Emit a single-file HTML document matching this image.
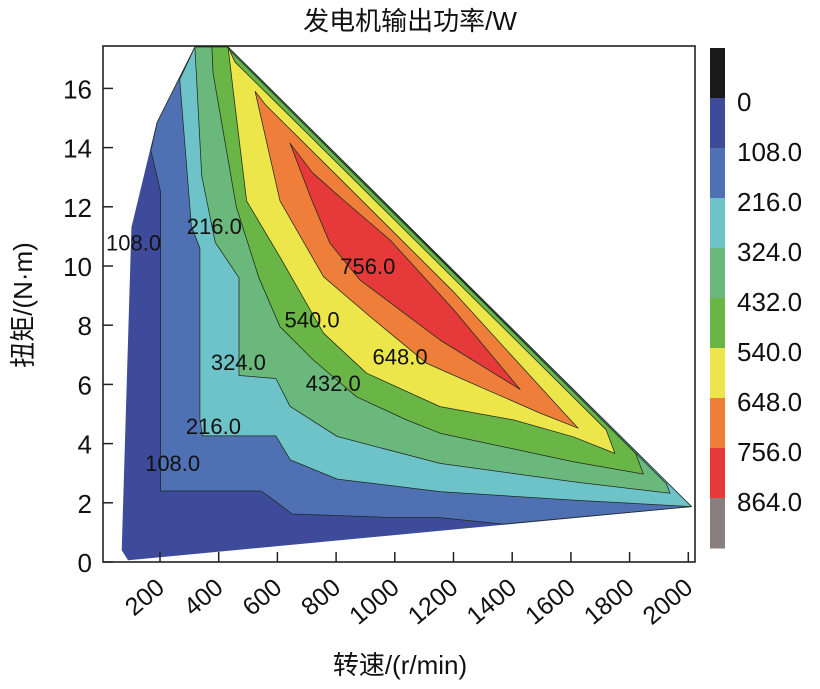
<!DOCTYPE html>
<html>
<head>
<meta charset="utf-8">
<style>
  html,body{margin:0;padding:0;background:#fff;}
  svg{display:block;font-family:"Liberation Sans","Noto Sans CJK SC",sans-serif;}
</style>
</head>
<body>
<svg id="chart" width="820" height="689" viewBox="0 0 820 689" xmlns="http://www.w3.org/2000/svg">
  <text x="410" y="30" font-size="26" text-anchor="middle" fill="#111">发电机输出功率/W</text>
  <g id="plot"></g>
  <g id="labels" font-size="22" fill="#111" text-anchor="middle"></g>
  <rect x="103" y="46" width="592" height="516" fill="none" stroke="#222" stroke-width="1.6"/>
  <g id="axes"></g>
  <g id="cbar"></g>
  <text transform="translate(32,305) rotate(-90)" font-size="26" text-anchor="middle" fill="#111">扭矩/(N·m)</text>
  <text x="400" y="674" font-size="26" text-anchor="middle" fill="#111">转速/(r/min)</text>
</svg>
<script>
// ---- data ----
const levels = [0, 108, 216, 324, 432, 540, 648, 756, 864];
const bandColors = ["#1b1a1a","#3d4b9a","#4f70b2","#6ec3c8","#6ab87c","#69b545","#ece64b","#ef7e3a","#e5393a","#8a7f7f"];
const xTicks = [200,400,600,800,1000,1200,1400,1600,1800,2000];
const yTicks = [0,2,4,6,8,10,12,14,16];
// domain boundary (speed r/min, torque N·m)
const domainS = [92, 71, 104, 190, 319, 432, 2011];
const domainT = [0.07, 0.4, 11.3, 14.85, 17.4, 17.4, 1.87];
// region > level: polygon points (speed, torque)
const r108S = [169,202,202,545,600,650,1000,1154,1369,2011,432,319,190];
const r108T = [13.9,12.5,2.4,2.4,2.0,1.62,1.5,1.5,1.28,1.87,17.4,17.4,14.85];
const r216S = [267,307,336,336,345,595,644,804,1154,1608,2011,432,319];
const r216T = [16.3,11.35,10.6,4.83,4.26,4.26,3.45,2.8,2.38,2.09,1.87,17.4,17.4];
const r324S = [319,342,388,469,469,595,643,804,1154,1608,1938,1925,432];
const r324T = [17.4,13.05,10.8,9.6,6.3,6.2,5.26,4.24,3.33,2.71,2.32,2.65,17.4];
const r432S = [377,381,460,537,609,723,870,1040,1154,1608,1847,1820,1000,436,430];
const r432T = [17.4,16.5,12.0,9.6,7.95,6.82,5.58,4.8,4.35,3.39,2.97,3.68,11.74,17.3,17.4];
const r540S = [432,449,495,609,757,904,1154,1404,1608,1750,1720,1000,600,455];
const r540T = [17.4,15.95,12.2,10.3,7.73,6.38,5.25,4.8,4.23,3.67,4.47,11.55,15.48,16.9];
const r648S = [524,609,757,916,1109,1290,1495,1625,1580,1200,800,560];
const r648T = [15.9,12.2,9.64,8.29,6.71,5.92,5.03,4.52,5.0,9.13,13.08,15.44];
const r756S = [643,717,779,881,1154,1427,1200,984,825,720];
const r756T = [14.15,12.23,10.77,9.53,7.5,5.83,8.53,10.88,12.23,13.15];
const labelText = ["108.0","108.0","216.0","216.0","324.0","432.0","540.0","648.0","756.0"];
const labelS = [110,243,385,382,467,790,718,1018,908];
const labelT = [10.8,3.35,11.35,4.6,6.75,6.05,8.2,6.95,10.0];

// ---- scales ----
const X = s => 101.3 + 0.2935 * s;
const Y = t => 562 - 29.6 * t;
const NS = "http://www.w3.org/2000/svg";
const plot = document.getElementById('plot');
function poly(S, T, fill, stroke) {
  const p = document.createElementNS(NS, 'polygon');
  p.setAttribute('points', S.map((s, i) => X(s).toFixed(1) + ',' + Y(T[i]).toFixed(1)).join(' '));
  p.setAttribute('fill', fill);
  p.setAttribute('stroke', stroke);
  p.setAttribute('stroke-width', '0.75');
  p.setAttribute('stroke-linejoin', 'round');
  return p;
}
const dom = poly(domainS, domainT, bandColors[1], bandColors[1]);


plot.appendChild(dom);
const regions = [[r108S,r108T],[r216S,r216T],[r324S,r324T],[r432S,r432T],[r540S,r540T],[r648S,r648T],[r756S,r756T]];
regions.forEach((r, i) => {
  const p = poly(r[0], r[1], bandColors[i + 2], '#1e2a1e');
  
  
  plot.appendChild(p);
});

// contour labels
const lg = document.getElementById('labels');
labelText.forEach((txt, i) => {
  const t = document.createElementNS(NS, 'text');
  t.setAttribute('x', X(labelS[i]));
  t.setAttribute('y', Y(labelT[i]) + 8);
  t.textContent = txt;
  
  
  lg.appendChild(t);
});

// axes
const ax = document.getElementById('axes');
xTicks.forEach(v => {
  const l = document.createElementNS(NS, 'line');
  l.setAttribute('x1', X(v)); l.setAttribute('x2', X(v));
  l.setAttribute('y1', 562); l.setAttribute('y2', 552);
  l.setAttribute('stroke', '#222'); l.setAttribute('stroke-width', '1.5');
  
  
  ax.appendChild(l);
  const t = document.createElementNS(NS, 'text');
  t.setAttribute('transform', 'translate(' + (X(v) + 6) + ',590) rotate(-40)');
  t.setAttribute('text-anchor', 'end');
  t.setAttribute('font-size', '25');
  t.setAttribute('fill', '#111');
  t.textContent = v;
  
  
  ax.appendChild(t);
});
yTicks.forEach(v => {
  const l = document.createElementNS(NS, 'line');
  l.setAttribute('x1', 103); l.setAttribute('x2', 113);
  l.setAttribute('y1', Y(v)); l.setAttribute('y2', Y(v));
  l.setAttribute('stroke', '#222'); l.setAttribute('stroke-width', '1.5');
  
  
  ax.appendChild(l);
  const t = document.createElementNS(NS, 'text');
  t.setAttribute('x', 92);
  t.setAttribute('y', Y(v) + 10);
  t.setAttribute('text-anchor', 'end');
  t.setAttribute('font-size', '26');
  t.setAttribute('fill', '#111');
  t.textContent = v;
  
  
  ax.appendChild(t);
});

// colorbar
const cb = document.getElementById('cbar');
bandColors.forEach((c, i) => {
  const r = document.createElementNS(NS, 'rect');
  r.setAttribute('x', 710); r.setAttribute('y', 48 + i * 50);
  r.setAttribute('width', 15); r.setAttribute('height', 50.5);
  r.setAttribute('fill', c);
  
  
  cb.appendChild(r);
});
levels.forEach((v, i) => {
  const t = document.createElementNS(NS, 'text');
  t.setAttribute('x', 737);
  t.setAttribute('y', 98 + i * 50 + 13);
  t.setAttribute('font-size', '26');
  t.setAttribute('fill', '#111');
  t.textContent = v === 0 ? '0' : v.toFixed(1);
  
  
  cb.appendChild(t);
});
</script>
</body>
</html>
